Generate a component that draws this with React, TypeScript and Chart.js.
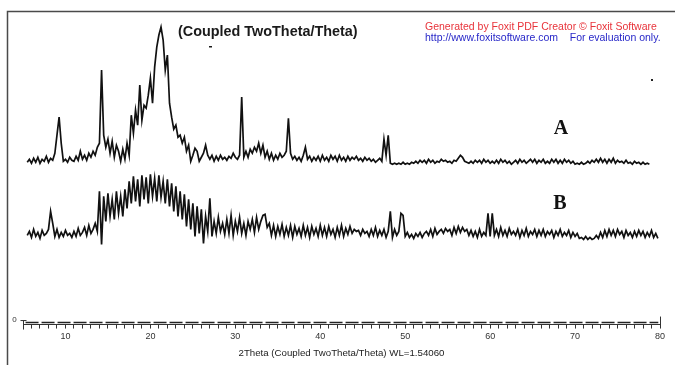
import { useEffect, useRef } from "react";
import { Chart, registerables } from "chart.js";

Chart.register(...registerables);

// 2-theta grid of the scans (degrees)
const X_START = 5.5;
const X_STEP = 0.25;

// Sample A intensities (counts above its own baseline), 5.5° .. 78.75°
const INTENSITY_A = [
  3, 6,
  2, 7, 3, 8,
  2, 6, 4, 9,
  3, 7, 5, 12,
  30, 48, 22, 4,
  6, 3, 8, 5,
  4, 9, 5, 14,
  6, 10, 5, 12,
  8, 14, 10, 18,
  22, 95, 30, 18,
  26, 12, 24, 8,
  20, 14, 4, 16,
  6, 22, 10, 50,
  32, 55, 40, 80,
  45, 60, 57, 70,
  87, 62, 98, 118,
  130, 138, 125, 95,
  110, 62, 48, 36,
  40, 28, 30, 22,
  28, 14, 20, 4,
  10, 17, 14, 4,
  8, 12, 20, 10,
  6, 10, 4, 9,
  5, 10, 6, 8,
  5, 9, 7, 12,
  8, 6, 10, 68,
  8, 14, 8, 16,
  12, 18, 14, 22,
  12, 20, 8, 14,
  6, 12, 5, 10,
  6, 12, 8, 10,
  14, 47, 12, 6,
  9, 5, 8, 4,
  10, 18, 6, 9,
  4, 8, 5, 9,
  4, 10, 5, 8,
  4, 10, 6, 9,
  4, 10, 5, 8,
  4, 9, 5, 8,
  6, 9, 5, 7,
  4, 8, 5, 7,
  4, 6, 3, 5,
  7, 4, 26, 10,
  30, 2, 1, 2,
  1, 2, 1, 3,
  1, 2, 1, 3,
  2, 4, 2, 5,
  3, 5, 2, 6,
  3, 5, 2, 4,
  3, 6, 4, 5,
  3, 4, 2, 5,
  4, 7, 10, 8,
  4, 3, 2, 4,
  2, 5, 3, 5,
  2, 6, 3, 5,
  2, 4, 2, 5,
  2, 6, 3, 5,
  2, 4, 1, 3,
  5, 2, 6, 3,
  5, 2, 4, 6,
  3, 6, 2, 5,
  3, 6, 2, 4,
  2, 6, 3, 6,
  2, 5, 2, 6,
  3, 5, 2, 4,
  1, 2, 1, 3,
  1, 2, 4, 2,
  5, 3, 6, 3,
  7, 3, 6, 2,
  6, 3, 7, 2,
  5, 3, 4, 2,
  5, 2, 3, 1,
  4, 2, 3, 1,
  3, 1, 2, 1,
];

// Sample B intensities (counts above its own baseline), 5.5° .. 79.75°
const INTENSITY_B = [
  6, 10,
  4, 12, 5, 9,
  3, 11, 6, 8,
  12, 30, 18, 5,
  12, 4, 9, 5,
  11, 6, 8, 4,
  10, 5, 13, 6,
  9, 14, 6, 16,
  8, 12, 18, 10,
  50, -3, 45, 20,
  48, 25, 42, 22,
  50, 28, 45, 25,
  52, 33, 60, 38,
  65, 40, 62, 35,
  66, 42, 64, 38,
  67, 45, 63, 40,
  66, 44, 60, 38,
  62, 35, 58, 30,
  55, 25, 50, 22,
  47, 15, 42, 12,
  38, 5, 35, 8,
  32, -2, 25, 10,
  43, 5, 20, 8,
  24, 10, 18, 7,
  22, 8, 26, 6,
  20, 10, 24, 8,
  18, 6, 20, 12,
  22, 9, 24, 12,
  20, 26, 27, 14,
  18, 6, 16, 5,
  15, 7, 17, 5,
  14, 6, 16, 4,
  15, 7, 13, 5,
  16, 6, 14, 4,
  15, 7, 13, 5,
  16, 6, 14, 5,
  15, 7, 12, 4,
  14, 6, 16, 5,
  13, 7, 15, 8,
  12, 10, 11, 6,
  12, 8, 10, 5,
  12, 6, 14, 5,
  11, 6, 12, 4,
  10, 30, 4, 12,
  6, 10, 28, 26,
  5, 9, 4, 7,
  3, 8, 5, 9,
  4, 8, 10, 6,
  12, 5, 13, 7,
  10, 12, 8, 13,
  10, 12, 6, 14,
  8, 15, 9, 14,
  10, 12, 6, 11,
  5, 10, 4, 12,
  5, 9, 6, 28,
  5, 28, 6, 12,
  5, 14, 6, 11,
  5, 13, 7, 10,
  6, 12, 4, 11,
  6, 13, 5, 10,
  7, 12, 5, 11,
  6, 12, 5, 10,
  7, 11, 4, 10,
  6, 12, 5, 9,
  6, 11, 4, 9,
  5, 8, 3, 4,
  2, 5, 2, 4,
  2, 3, 6, 3,
  9, 4, 11, 5,
  12, 6, 11, 5,
  12, 7, 10, 4,
  11, 6, 9, 4,
  10, 5, 11, 6,
  10, 4, 9, 5,
  11, 4, 8, 3,
];

// vertical offsets of the stacked scans (counts)
const OFFSET_A = 157;
const OFFSET_B = 81;

// zero-intensity reference trace (2-theta extent)
const ZERO_RANGE = [5.3, 79.8];

const X_MIN = 5;
const X_MAX = 80;
const X_LABELS = [10, 20, 30, 40, 50, 60, 70, 80];
const Y_MIN = -2;
const Y_MAX = 311;

const TITLE = "(Coupled TwoTheta/Theta)";
const X_TITLE = "2Theta (Coupled TwoTheta/Theta) WL=1.54060";
const WATERMARK_1 = "Generated by Foxit PDF Creator \u00A9 Foxit Software";
const WATERMARK_2 = "http://www.foxitsoftware.com    For evaluation only.";
const SERIES_LABELS = ["A", "B"];

const SANS = 'Arial, "Liberation Sans", sans-serif';
const SERIF = '"Times New Roman", "Liberation Serif", serif';

export default function App() {
  const ref = useRef<HTMLCanvasElement>(null);

  useEffect(() => {
    if (!ref.current) return;
    const toPts = (arr: number[], off: number) =>
      arr.map((v, i) => ({ x: X_START + i * X_STEP, y: v + off }));

    const overlay = {
      id: "overlay",
      beforeDraw(chart: any) {
        const { ctx, width, height } = chart;
        ctx.save();
        ctx.fillStyle = "#ffffff";
        ctx.fillRect(0, 0, width, height);
        ctx.restore();
      },
      afterDraw(chart: any) {
        const { ctx } = chart;
        const xs = chart.scales.x;
        const ys = chart.scales.y;
        ctx.save();
        // frame
        ctx.strokeStyle = "#4a4a4a";
        ctx.lineWidth = 1.5;
        ctx.beginPath();
        ctx.moveTo(7.5, 365);
        ctx.lineTo(7.5, 11.5);
        ctx.lineTo(675, 11.5);
        ctx.stroke();

        // axis end ticks
        const axisY = chart.chartArea.bottom;
        ctx.strokeStyle = "#333";
        ctx.lineWidth = 1;
        const x0 = Math.round(xs.getPixelForValue(X_MIN)) + 0.5;
        ctx.beginPath();
        ctx.moveTo(x0, axisY - 4);
        ctx.lineTo(x0, axisY + 5);
        ctx.moveTo(x0 - 3, axisY - 4);
        ctx.lineTo(x0 + 3, axisY - 4);
        const x1 = Math.round(xs.getPixelForValue(X_MAX)) + 0.5;
        ctx.moveTo(x1, axisY);
        ctx.lineTo(x1, axisY - 8);
        ctx.stroke();

        // "0" label
        ctx.fillStyle = "#333";
        ctx.font = `8px ${SANS}`;
        ctx.textAlign = "center";
        ctx.textBaseline = "middle";
        ctx.fillText("0", x0 - 9, ys.getPixelForValue(0) - 3);

        // title
        ctx.fillStyle = "#1a1a1a";
        ctx.font = `bold 14.4px ${SANS}`;
        ctx.textAlign = "left";
        ctx.fillText(TITLE, 178, 32);
        ctx.fillRect(209, 46, 3, 1.5);

        // watermark
        ctx.font = `10.5px ${SANS}`;
        ctx.fillStyle = "#e8333a";
        ctx.fillText(WATERMARK_1, 425, 27);
        ctx.fillStyle = "#2727c8";
        ctx.fillText(WATERMARK_2, 425, 38);
        ctx.fillStyle = "#222";
        ctx.fillRect(651, 79, 2, 2);

        // series labels
        ctx.fillStyle = "#111";
        ctx.font = `bold 20px ${SERIF}`;
        ctx.textAlign = "center";
        ctx.fillText(SERIES_LABELS[0], 561, 129);
        ctx.fillText(SERIES_LABELS[1], 560, 204);
        ctx.restore();
      },
    };

    const chart = new Chart(ref.current, {
      type: "line",
      data: {
        datasets: [
          {
            label: SERIES_LABELS[0],
            data: toPts(INTENSITY_A, OFFSET_A),
            borderColor: "#111",
            borderWidth: 1.7,
            pointRadius: 0,
            tension: 0,
            fill: false,
          },
          {
            label: SERIES_LABELS[1],
            data: toPts(INTENSITY_B, OFFSET_B),
            borderColor: "#111",
            borderWidth: 1.7,
            pointRadius: 0,
            tension: 0,
            fill: false,
          },
          {
            label: "zero",
            data: ZERO_RANGE.map((x) => ({ x, y: 0 })),
            borderColor: "#222",
            borderWidth: 1.6,
            borderDash: [13, 3],
            pointRadius: 0,
            fill: false,
          },
        ],
      },
      options: {
        responsive: false,
        animation: false,
        devicePixelRatio: 1,
        layout: { padding: { left: 23, right: 15, top: 11, bottom: 0 } },
        plugins: {
          legend: { display: false },
          tooltip: { enabled: false },
          title: { display: false },
        },
        scales: {
          x: {
            type: "linear",
            min: X_MIN,
            max: X_MAX,
            grid: {
              display: true,
              drawOnChartArea: false,
              drawTicks: true,
              tickLength: 4,
              color: "#333",
              lineWidth: 1,
            },
            border: { display: true, color: "#333", width: 1 },
            ticks: {
              stepSize: 1,
              autoSkip: false,
              maxRotation: 0,
              padding: 3,
              color: "#333",
              font: { size: 9, family: SANS },
              callback: (v: any) => (X_LABELS.includes(Number(v)) ? String(v) : ""),
            },
            title: {
              display: true,
              text: X_TITLE,
              color: "#222",
              font: { size: 9.7, family: SANS },
              padding: { top: 2, bottom: 6 },
            },
          },
          y: {
            display: false,
            min: Y_MIN,
            max: Y_MAX,
          },
        },
      },
      plugins: [overlay],
    });
    return () => chart.destroy();
  }, []);

  return (
    <div style={{ position: "fixed", left: 0, top: 0, width: 675, height: 365, background: "#fff" }}>
      <canvas ref={ref} width={675} height={365} style={{ width: 675, height: 365, display: "block" }} />
    </div>
  );
}
